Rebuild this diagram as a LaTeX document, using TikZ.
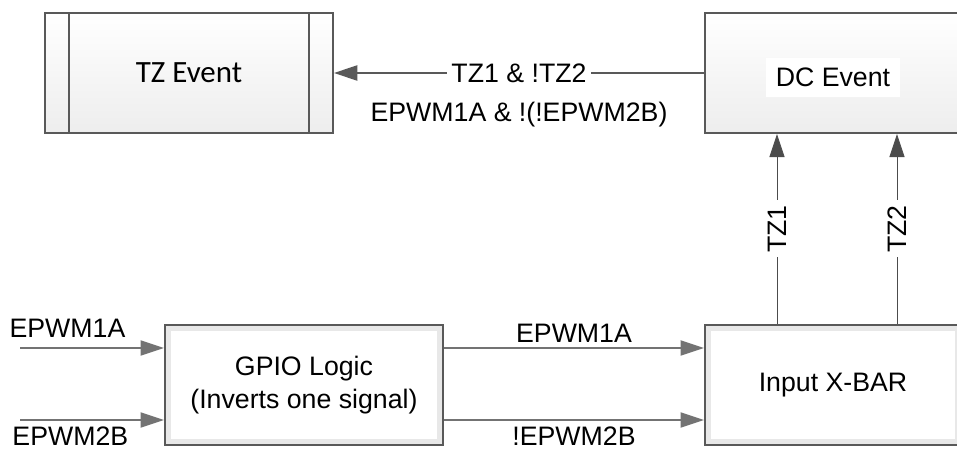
\documentclass[tikz,border=0pt]{standalone}
\usepackage{fontspec}
\setmainfont{Liberation Sans}
\newfontfamily\calibrifont{Carlito}
\usepackage{xcolor}
\usetikzlibrary{arrows.meta,positioning}
\newcommand\sigfont{\fontsize{19}{23.5}\selectfont}

\begin{document}
\begin{tikzpicture}[
    event/.style={rectangle, draw=black!65, line width=1.5pt, top color=white, bottom color=gray!14, minimum width=7.2cm, minimum height=3cm, align=center, font=\sigfont},
    tzevent/.style={event, font=\calibrifont\fontsize{22}{26}\selectfont, path picture={\draw[black!65, line width=1.5pt] ([xshift=0.6cm]path picture bounding box.south west) -- ([xshift=0.6cm]path picture bounding box.north west) ([xshift=-0.6cm]path picture bounding box.south east) -- ([xshift=-0.6cm]path picture bounding box.north east);}},
    block/.style={rectangle, draw=black!65, line width=1.7pt, fill=white, minimum height=3cm, align=center, font=\sigfont, path picture={\draw[gray!18, line width=9pt] (path picture bounding box.south west) rectangle (path picture bounding box.north east);}},
    arrow/.style={draw=black!55, line width=1pt, -{Triangle[length=0.58cm, width=0.38cm]}},
    wire/.style={draw=black!70, line width=0.6pt, -{Triangle[length=0.58cm, width=0.38cm]}}
]
    \useasboundingbox (0,0) rectangle (23.925,11.375);

    \node[tzevent] (tz) at (4.725,9.55) {TZ Event};
    \node[event, minimum width=6.4cm, label={[fill=white, inner sep=7pt, font=\sigfont, yshift=-0.12cm]center:DC Event}] (dc) at (20.825,9.55) {};

    \node[block, minimum width=6.95cm] (gpio) at (7.6,1.75) {GPIO Logic\\(Inverts one signal)};
    \node[block, minimum width=6.4cm] (xbar) at (20.825,1.75) {Input X-BAR};

    \coordinate (in1) at (0.5,2.675);
    \coordinate (in2) at (0.5,0.875);

    \draw[arrow] (in1) -- node[above=0.12cm, pos=0.33, font=\sigfont] {EPWM1A} (in1 -| gpio.west);
    \draw[arrow] (in2) -- node[below=0.08cm, pos=0.35, font=\sigfont, inner sep=2pt] {EPWM2B} (in2 -| gpio.west);
    \draw[arrow] (gpio.east |- in1) -- node[above, font=\sigfont] {EPWM1A} (xbar.west |- in1);
    \draw[arrow] (gpio.east |- in2) -- node[below=0.08cm, font=\sigfont, inner sep=2pt] {!EPWM2B} (xbar.west |- in2);

    \draw[wire] ([xshift=-1.4cm]xbar.north) -- node[fill=white, rotate=90, font=\sigfont] {TZ1} ([xshift=-1.4cm]dc.south);
    \draw[wire] ([xshift=1.6cm]xbar.north) -- node[fill=white, rotate=90, font=\sigfont] {TZ2} ([xshift=1.6cm]dc.south);

    \draw[arrow, draw=black!65] (dc.west) -- node[fill=white, font=\sigfont] {TZ1 \& !TZ2} node[below=0.6cm, font=\sigfont] {EPWM1A \& !(!EPWM2B)} (tz.east);
\end{tikzpicture}
\end{document}
